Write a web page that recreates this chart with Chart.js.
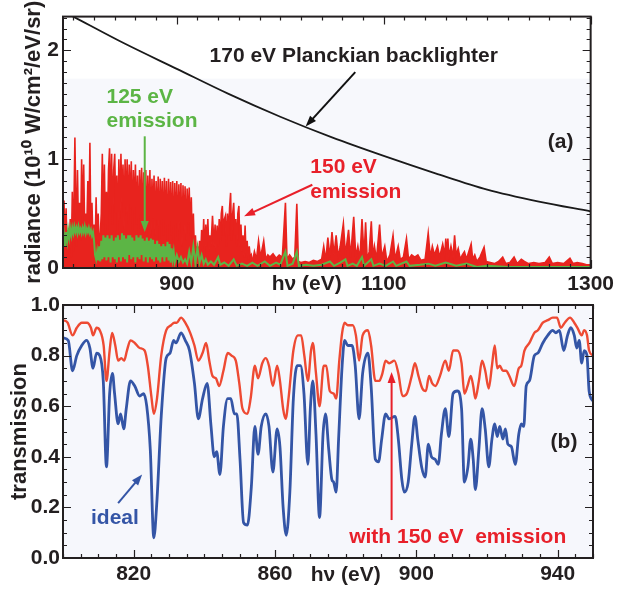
<!DOCTYPE html>
<html>
<head>
<meta charset="utf-8">
<script src="https://cdn.jsdelivr.net/npm/chart.js@4.4.1/dist/chart.umd.min.js"></script>
<style>
  body { margin: 0; background: #fff; width: 618px; height: 591px; position: relative; overflow: hidden; }
  canvas { position: absolute; left: 0; }
  #topChart { top: 0; }
  #botChart { top: 280px; }
</style>
</head>
<body>
<canvas id="topChart" width="618" height="300"></canvas>
<canvas id="botChart" width="618" height="311"></canvas>
<script>
/* ======= (a) radiance panel ======= */
const topXTicks = [900, 1100, 1300];
const topYTicks = [0, 1, 2];

const planckEv  = [790, 800, 850, 900, 950, 1000, 1050, 1100, 1150, 1200, 1250, 1300];
const planckRad = [2.36, 2.31, 2.06, 1.83, 1.60, 1.39, 1.20, 1.03, 0.87, 0.72, 0.61, 0.52];

const emis150Ev = [
  790, 791, 792, 793, 794, 795, 796, 797, 798, 799,
  800, 801.5, 803, 804, 805, 806, 807, 808, 809, 810,
  811, 812, 813, 814, 815, 816, 817, 818, 819, 820,
  821, 822, 823, 824, 825, 826, 827, 828, 829, 830,
  831, 832, 833, 834, 835, 836, 837, 838, 839, 840,
  841, 842, 843, 844, 845, 846, 847, 848, 849, 850,
  851, 852, 853, 854, 855, 856, 857, 858, 859, 860,
  861, 862, 863, 864, 865, 866, 867, 868, 869, 870,
  871, 872, 873, 874, 875, 876, 877, 878, 879, 880,
  881, 882, 883, 884, 885, 886, 887, 888, 889, 890,
  891, 892, 893, 894, 895, 896, 897, 898, 899, 900,
  901, 902, 903, 904, 905, 906, 907, 908, 909, 910,
  911, 912, 913, 914, 915, 916, 917, 918, 919, 920,
  921, 922, 923, 924, 925, 926, 927, 928, 929, 930,
  931, 932, 933, 934.5, 936, 937, 938, 939, 940, 941,
  942, 943, 944, 945, 946, 947, 948, 949, 950, 951,
  952, 953, 954, 955, 956, 957, 958, 959, 960, 961,
  962, 963, 964, 965, 966, 967, 968, 969, 970, 971,
  972, 973, 975, 977, 979, 981, 984, 986, 988, 990,
  993, 996, 999, 1002, 1005, 1006.5, 1009, 1012, 1014, 1016,
  1017.5, 1020, 1024, 1028, 1032, 1036, 1040, 1042, 1044, 1046,
  1048, 1050, 1052, 1054, 1056, 1058, 1061, 1063, 1066, 1068,
  1071, 1073, 1075, 1077, 1079, 1081, 1082.5, 1084, 1086, 1088,
  1089.5, 1091, 1093, 1096, 1098, 1101, 1103, 1106, 1109, 1111,
  1114, 1116, 1119, 1122, 1124, 1127, 1130, 1133, 1136, 1140,
  1143, 1145, 1147, 1149, 1152, 1154, 1157, 1159, 1160, 1161,
  1162, 1163, 1165, 1167, 1168.5, 1170, 1172, 1174, 1176, 1178,
  1180, 1184.5, 1186, 1188, 1190, 1193, 1197, 1199, 1203, 1207,
  1211, 1215, 1218, 1222, 1226, 1229, 1233, 1236, 1240, 1245,
  1250, 1256, 1260, 1263, 1268, 1274, 1280, 1283, 1287, 1292,
  1296, 1300
];
const emis150Rad = [
  .15, .62, .12, .55, .10, .35, .12, .45, .10, .70,
  .15, 1.20, .20, .90, .30, .60, .25, 1.00, .40, .95,
  .30, .50, .35, .80, .30, 1.15, .25, .60, .20, .40,
  .15, .65, .20, .50, .15, .30, .50, 1.05, .40, .95,
  .30, .70, .35, .90, 1.10, .50, 1.05, .40, .90, 1.05,
  .50, .85, .30, 1.00, .45, 1.05, .60, .95, .35, 1.00,
  .50, 1.00, .40, .95, .55, .98, .35, .90, .50, .95,
  .40, .85, .30, .90, .45, .92, .35, .88, .50, .90,
  .30, .85, .40, .90, .30, .82, .45, .85, .30, .80,
  .40, .84, .25, .82, .40, .80, .30, .83, .35, .80,
  .20, .82, .35, .79, .30, .80, .20, .78, .35, .80,
  .25, .77, .40, .78, .20, .76, .35, .75, .25, .73,
  .40, .74, .30, .65, .20, .50, .15, .30, .10, .20,
  .08, .25, .10, .35, .15, .45, .12, .40, .20, .45,
  .15, .30, .20, .48, .20, .40, .15, .39, .20, .45,
  .25, .50, .57, .30, .45, .48, .20, .50, .30, .55,
  .69, .25, .50, .60, .30, .45, .20, .50, .57, .20,
  .40, .15, .30, .10, .39, .10, .25, .08, .20, .10,
  .12, .05, .15, .08, .25, .10, .25, .08, .12, .10,
  .13, .09, .12, .10, .60, .08, .12, .08, .10, .59,
  .06, .05, .06, .05, .07, .06, .08, .20, .07, .28,
  .10, .33, .12, .30, .10, .20, .41, .12, .35, .10,
  .47, .10, .20, .08, .45, .10, .42, .08, .15, .43,
  .10, .20, .08, .40, .10, .20, .06, .12, .30, .08,
  .20, .08, .10, .27, .08, .12, .10, .12, .07, .08,
  .32, .10, .20, .12, .20, .10, .22, .12, .27, .12,
  .27, .10, .20, .10, .30, .12, .18, .08, .12, .15,
  .08, .22, .08, .12, .06, .10, .19, .06, .05, .04,
  .06, .10, .04, .05, .10, .04, .08, .06, .04, .05,
  .04, .05, .10, .04, .05, .04, .09, .04, .05, .04,
  .03, .03
];

const emis125Ev = [
  790, 791, 792, 793, 794, 795, 796, 797, 798, 799,
  800, 801, 802, 803, 804, 805, 806, 807, 808, 809,
  810, 811, 812, 813, 814, 815, 816, 817, 818, 819,
  820, 821, 822, 823, 824, 825, 826, 827, 828, 829,
  830, 831, 832, 833, 834, 835, 836, 837, 838, 839,
  840, 841, 842, 843, 844, 845, 846, 847, 848, 849,
  850, 851, 852, 853, 854, 855, 856, 857, 858, 859,
  860, 861, 862, 863, 864, 865, 866, 867, 868, 869,
  870, 871, 872, 873, 874, 875, 876, 877, 878, 879,
  880, 881, 882, 883, 884, 885, 886, 887, 888, 889,
  890, 891, 892, 893, 894, 895, 896, 897, 898, 900,
  902, 904, 906, 908, 910, 912, 914, 916, 918, 920,
  922, 924, 926, 928, 930, 933, 936, 940, 942, 946,
  950, 955, 958, 963, 968, 973, 978, 985, 990, 996,
  1000, 1005, 1007, 1012, 1016, 1018, 1025, 1032, 1040, 1048,
  1052, 1058, 1063, 1065, 1070, 1074, 1079, 1081, 1088, 1090,
  1096, 1102, 1109, 1112, 1122, 1125, 1135, 1143, 1150, 1160,
  1170, 1180, 1190, 1200, 1220, 1250, 1300
];
const emis125Rad = [
  .22, .30, .20, .33, .25, .35, .28, .36, .30, .37,
  .32, .38, .33, .37, .32, .38, .33, .36, .32, .37,
  .33, .38, .32, .36, .33, .37, .32, .35, .30, .33,
  .25, .12, .08, .15, .07, .20, .06, .25, .08, .30,
  .10, .28, .07, .30, .10, .27, .05, .30, .10, .25,
  .08, .28, .05, .30, .10, .26, .06, .32, .10, .30,
  .08, .27, .05, .30, .12, .30, .08, .28, .10, .25,
  .05, .30, .10, .28, .08, .30, .12, .27, .06, .25,
  .10, .28, .05, .25, .10, .27, .08, .26, .06, .22,
  .10, .25, .07, .22, .05, .20, .10, .22, .06, .20,
  .10, .24, .07, .22, .05, .18, .08, .15, .05, .12,
  .06, .10, .05, .08, .04, .15, .05, .20, .04, .19,
  .05, .12, .04, .08, .03, .06, .03, .10, .03, .05,
  .02, .08, .02, .04, .02, .05, .02, .06, .02, .05,
  .03, .15, .02, .04, .15, .02, .03, .02, .03, .06,
  .02, .05, .08, .02, .04, .02, .10, .02, .08, .02,
  .04, .02, .06, .02, .06, .02, .03, .04, .02, .05,
  .02, .04, .01, .02, .01, .01, .01
];

/* ======= (b) transmission panel ======= */
const botXTicks = [820, 860, 900, 940];
const botYTicks = [0, 0.2, 0.4, 0.6, 0.8, 1.0];

const idealEv = [
  800.1, 801.5, 802.7, 803.9, 805.3, 806.7, 807.6, 808.5, 809.5, 810.4,
  811.4, 812.3, 813.2, 814.0, 814.6, 815.6, 816.3, 817.2, 817.9, 819.1,
  820.3, 821.7, 822.8, 823.7, 824.7, 825.7, 826.6, 827.8, 829.2, 830.3,
  831.3, 832.0, 833.4, 834.6, 835.8, 837.2, 838.3, 839.5, 840.8, 841.9,
  842.8, 843.5, 844.4, 845.4, 846.6, 847.5, 848.5, 849.2, 850.1, 851.1,
  852.2, 853.3, 854.3, 855.2, 856.1, 857.4, 858.3, 859.4, 860.6, 861.4,
  862.3, 863.2, 864.2, 865.2, 866.3, 867.2, 868.2, 869.3, 870.0, 870.7,
  871.6, 872.6, 873.6, 874.3, 875.2, 876.1, 876.6, 877.3, 878.0, 879.0,
  879.7, 880.6, 881.8, 882.7, 883.8, 884.8, 886.3, 887.2, 888.4, 889.3,
  890.2, 891.3, 892.3, 894.0, 894.9, 895.9, 896.6, 897.7, 898.7, 899.6,
  900.4, 901.5, 902.5, 903.4, 904.3, 905.3, 906.2, 907.1, 908.2, 909.2,
  910.4, 911.6, 912.8, 913.6, 914.6, 915.4, 916.1, 916.7, 917.7, 918.6,
  919.5, 920.5, 921.4, 922.2, 922.9, 923.6, 924.5, 925.2, 925.9, 926.9,
  928.0, 929.0, 929.7, 930.4, 931.1, 932.0, 933.4, 934.4, 935.8, 937.2,
  938.6, 939.5, 940.5, 941.7, 942.8, 943.7, 944.7, 945.4, 946.1, 946.8,
  947.5, 948.3, 948.9, 950
];
const idealT = [
  .87, .86, .74, .80, .84, .86, .83, .75, .81, .80,
  .70, .36, .65, .73, .65, .53, .57, .51, .59, .70,
  .68, .64, .65, .60, .43, .08, .23, .56, .79, .81,
  .86, .85, .89, .86, .82, .69, .55, .63, .69, .52,
  .40, .42, .33, .52, .63, .63, .57, .57, .39, .14,
  .13, .28, .52, .41, .52, .57, .52, .34, .51, .44,
  .20, .09, .26, .63, .76, .76, .65, .37, .59, .70,
  .49, .16, .49, .57, .43, .31, .30, .26, .47, .76,
  .86, .84, .84, .76, .55, .73, .81, .68, .39, .38,
  .47, .57, .55, .56, .47, .31, .26, .30, .45, .56,
  .47, .36, .32, .45, .40, .39, .37, .49, .59, .48,
  .65, .66, .59, .30, .36, .47, .39, .27, .43, .59,
  .51, .36, .47, .53, .48, .52, .47, .51, .45, .44,
  .37, .49, .53, .52, .68, .70, .80, .81, .85, .88,
  .90, .89, .90, .82, .88, .91, .88, .83, .86, .77,
  .82, .80, .66, .62
];

const withEmisEv = [
  800.1, 801.3, 802.7, 803.9, 805.3, 806.8, 807.9, 808.5, 809.5, 810.4,
  811.5, 812.3, 813.2, 813.9, 814.8, 815.6, 816.5, 817.3, 818.1, 819.1,
  820.3, 821.7, 823.1, 824.0, 825.0, 825.7, 826.6, 827.8, 829.2, 830.6,
  831.5, 832.2, 833.4, 834.6, 836.0, 837.2, 838.3, 839.5, 840.5, 841.4,
  842.3, 843.3, 844.2, 845.4, 846.6, 847.7, 848.9, 849.9, 850.8, 852.2,
  853.1, 854.3, 855.2, 856.4, 857.4, 858.3, 859.4, 860.6, 861.4, 862.3,
  863.0, 863.9, 865.2, 866.5, 867.4, 868.3, 869.3, 870.2, 870.7, 871.6,
  872.6, 873.8, 874.5, 875.5, 876.6, 877.3, 878.2, 879.0, 879.7, 880.6,
  882.0, 882.9, 883.8, 884.8, 886.3, 887.2, 888.4, 889.5, 890.4, 891.3,
  892.3, 893.8, 894.9, 896.1, 897.3, 898.7, 899.6, 900.6, 901.7, 902.7,
  903.6, 904.5, 905.4, 906.7, 908.2, 909.2, 910.4, 911.6, 912.8, 913.6,
  914.5, 915.4, 916.1, 916.7, 917.7, 918.6, 919.5, 920.5, 921.4, 922.2,
  922.9, 923.6, 924.5, 925.4, 926.3, 927.7, 929.0, 929.7, 930.6, 932.0,
  933.4, 934.4, 935.8, 937.2, 938.6, 939.8, 940.9, 942.0, 943.5, 944.7,
  945.6, 946.8, 947.5, 948.3, 948.9, 950
];
const withEmisT = [
  .94, .93, .88, .91, .93, .93, .91, .88, .91, .90,
  .84, .70, .82, .89, .84, .78, .79, .78, .82, .86,
  .85, .83, .82, .76, .64, .57, .63, .80, .90, .92,
  .93, .93, .95, .93, .89, .84, .78, .81, .85, .78,
  .72, .71, .68, .74, .81, .80, .78, .69, .59, .57,
  .63, .76, .71, .77, .79, .76, .68, .76, .70, .59,
  .55, .64, .82, .88, .88, .80, .70, .82, .85, .73,
  .60, .76, .76, .66, .65, .63, .78, .89, .93, .92,
  .92, .88, .78, .88, .90, .84, .70, .70, .73, .78,
  .77, .78, .73, .64, .65, .72, .77, .72, .67, .66,
  .72, .69, .68, .72, .78, .74, .82, .82, .77, .65,
  .68, .72, .68, .63, .70, .78, .74, .67, .76, .84,
  .75, .76, .74, .74, .72, .68, .75, .76, .82, .85,
  .89, .90, .93, .94, .95, .95, .91, .93, .95, .93,
  .91, .88, .90, .88, .82, .80
];

/* ======= helpers ======= */
const INK = '#231f20';
const FONT = '"Liberation Sans", Arial, sans-serif';

function pts(xs, ys) {
  return xs.map((x, i) => ({ x, y: ys[i] }));
}

// frame, inward ticks on all sides, shaded background, labels and arrows
function panelDecor(cfg) {
  return {
    id: 'panelDecor',
    beforeDatasetsDraw(chart) {
      const { ctx, chartArea: a, scales: { y } } = chart;
      const top = cfg.shadeFrom != null ? y.getPixelForValue(cfg.shadeFrom) : a.top;
      ctx.save();
      ctx.fillStyle = cfg.shade;
      ctx.fillRect(a.left, top, a.right - a.left, a.bottom - top);
      ctx.restore();
    },
    afterDatasetsDraw(chart) {
      const { ctx, chartArea: a, scales: { x, y } } = chart;
      ctx.save();
      ctx.strokeStyle = INK;

      ctx.lineWidth = 1.2;
      const marks = (scale, anchor, step, majors, horiz) => {
        const n0 = Math.ceil((scale.min - anchor) / step - 1e-6);
        const n1 = Math.floor((scale.max - anchor) / step + 1e-6);
        for (let n = n0; n <= n1; n++) {
          const v = anchor + n * step;
          const isMajor = majors.some(m => Math.abs(m - v) < step / 10);
          const len = isMajor ? 8 : 4;
          const p = Math.round(scale.getPixelForValue(v)) + 0.5;
          ctx.beginPath();
          if (horiz) {
            ctx.moveTo(p, a.bottom); ctx.lineTo(p, a.bottom - len);
            ctx.moveTo(p, a.top); ctx.lineTo(p, a.top + len);
          } else {
            ctx.moveTo(a.left, p); ctx.lineTo(a.left + len, p);
            ctx.moveTo(a.right, p); ctx.lineTo(a.right - len, p);
          }
          ctx.stroke();
        }
      };
      marks(x, cfg.xTicks[0], cfg.xMinor, cfg.xTicks, true);
      marks(y, cfg.yTicks[0], cfg.yMinor, cfg.yTicks, false);

      ctx.lineWidth = 2;
      ctx.strokeRect(a.left, a.top, a.right - a.left, a.bottom - a.top);

      cfg.arrows.forEach(ar => {
        const x1 = x.getPixelForValue(ar.x1), y1 = y.getPixelForValue(ar.y1);
        const x2 = x.getPixelForValue(ar.x2), y2 = y.getPixelForValue(ar.y2);
        const ang = Math.atan2(y2 - y1, x2 - x1);
        ctx.strokeStyle = ar.color;
        ctx.fillStyle = ar.color;
        ctx.lineWidth = 2;
        ctx.beginPath();
        ctx.moveTo(x1, y1);
        ctx.lineTo(x2 - 6 * Math.cos(ang), y2 - 6 * Math.sin(ang));
        ctx.stroke();
        ctx.beginPath();
        ctx.moveTo(x2, y2);
        ctx.lineTo(x2 - 11 * Math.cos(ang) + 4 * Math.sin(ang), y2 - 11 * Math.sin(ang) - 4 * Math.cos(ang));
        ctx.lineTo(x2 - 11 * Math.cos(ang) - 4 * Math.sin(ang), y2 - 11 * Math.sin(ang) + 4 * Math.cos(ang));
        ctx.closePath();
        ctx.fill();
      });

      ctx.textBaseline = 'middle';
      cfg.texts.forEach(t => {
        ctx.font = `bold ${t.size || 21}px ${FONT}`;
        ctx.fillStyle = t.color || INK;
        ctx.textAlign = t.align || 'center';
        ctx.fillText(t.text, x.getPixelForValue(t.x), y.getPixelForValue(t.y));
      });
      ctx.restore();
    }
  };
}

function axisOpts(min, max, ticks, fmt, padding) {
  return {
    type: 'linear', min, max,
    afterBuildTicks: s => { s.ticks = ticks.map(v => ({ value: v })); },
    grid: { display: false, drawTicks: false },
    border: { display: false },
    ticks: { padding, color: INK, font: { size: 21, weight: 'bold' }, callback: fmt }
  };
}

Chart.defaults.font.family = FONT;
Chart.defaults.color = INK;

/* ======= Inicialização ======= */
const topX = axisOpts(790, 1300, topXTicks, v => String(v), 4);
topX.afterFit = s => { s.height = 32; };
const topY = axisOpts(0, 2.31, topYTicks, v => String(v), 4);
topY.afterFit = s => { s.width = 63; };
topY.title = { display: true, text: 'radiance (10¹⁰ W/cm²/eV/sr)', color: INK,
  font: { size: 22, weight: 'bold', lineHeight: 1.2 }, padding: { top: 21, bottom: 0 } };

new Chart(document.getElementById('topChart'), {
  type: 'line',
  data: {
    datasets: [
      { label: '170 eV Planckian backlighter', data: pts(planckEv, planckRad), borderColor: '#1a1a1a', borderWidth: 1.8, cubicInterpolationMode: 'monotone' },
      { label: '125 eV emission', data: pts(emis125Ev, emis125Rad), borderColor: '#5cb545', borderWidth: 2 },
      { label: '150 eV emission', data: pts(emis150Ev, emis150Rad), borderColor: '#e8231e', backgroundColor: '#e8231e', fill: 'origin', borderWidth: 1.6 }
    ]
  },
  options: {
    responsive: false, animation: false, devicePixelRatio: 1,
    layout: { padding: { left: 0, right: 25, top: 13, bottom: 0 } },
    elements: { point: { radius: 0 }, line: { tension: 0 } },
    plugins: { legend: { display: false }, tooltip: { enabled: false } },
    scales: { x: topX, y: topY }
  },
  plugins: [panelDecor({
    shade: '#f7f8fc', shadeFrom: 1.74,
    xTicks: topXTicks, xMinor: 20, yTicks: topYTicks, yMinor: 0.1,
    texts: [
      { text: '170 eV Planckian backlighter', x: 1071, y: 1.95 },
      { text: '125 eV', x: 832, y: 1.57, align: 'left', color: '#5cb545' },
      { text: 'emission', x: 832, y: 1.345, align: 'left', color: '#5cb545' },
      { text: '150 eV', x: 1029, y: 0.925, align: 'left', color: '#e8202a' },
      { text: 'emission', x: 1029, y: 0.70, align: 'left', color: '#e8202a' },
      { text: '(a)', x: 1271, y: 1.155 },
      { text: 'hν (eV)', x: 1025.5, y: -0.145 }
    ],
    arrows: [
      { x1: 1072.5, y1: 1.80, x2: 1024.5, y2: 1.30, color: '#111' },
      { x1: 869, y1: 1.21, x2: 869, y2: 0.33, color: '#5cb545' },
      { x1: 1031, y1: 0.765, x2: 965, y2: 0.475, color: '#e8202a' }
    ]
  })]
});

const botX = axisOpts(800, 950, botXTicks, v => String(v), 4);
botX.afterFit = s => { s.height = 33; };
const botY = axisOpts(0, 1, botYTicks, v => v.toFixed(1), 3);
botY.afterFit = s => { s.width = 63; };
botY.title = { display: true, text: 'transmission', color: INK,
  font: { size: 22, weight: 'bold', lineHeight: 1.2 }, padding: { top: 7, bottom: 0 } };

new Chart(document.getElementById('botChart'), {
  type: 'line',
  data: {
    datasets: [
      { label: 'ideal', data: pts(idealEv, idealT), borderColor: '#3455a6', borderWidth: 2.8, cubicInterpolationMode: 'monotone' },
      { label: 'with 150 eV emission', data: pts(withEmisEv, withEmisT), borderColor: '#ee4a33', borderWidth: 2.4, cubicInterpolationMode: 'monotone' }
    ]
  },
  options: {
    responsive: false, animation: false, devicePixelRatio: 1,
    layout: { padding: { left: 0, right: 25, top: 25, bottom: 0 } },
    elements: { point: { radius: 0 } },
    plugins: { legend: { display: false }, tooltip: { enabled: false } },
    scales: { x: botX, y: botY }
  },
  plugins: [panelDecor({
    shade: '#f6f7fc', shadeFrom: null,
    xTicks: botXTicks, xMinor: 5, yTicks: botYTicks, yMinor: 0.05,
    texts: [
      { text: '(b)', x: 941.8, y: 0.458 },
      { text: 'ideal', x: 814.7, y: 0.158, color: '#3455a6' },
      { text: 'with 150 eV  emission', x: 911.7, y: 0.083, color: '#e8202a' },
      { text: 'hν (eV)', x: 880, y: -0.067 }
    ],
    arrows: [
      { x1: 815.6, y1: 0.217, x2: 822.4, y2: 0.33, color: '#3455a6' },
      { x1: 893, y1: 0.15, x2: 893, y2: 0.735, color: '#e8202a' }
    ]
  })]
});
</script>
</body>
</html>
